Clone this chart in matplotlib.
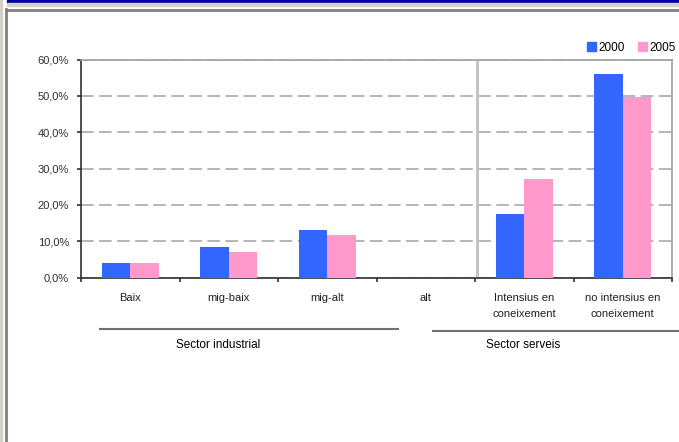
import matplotlib
matplotlib.use("Agg")
import matplotlib.pyplot as plt
from matplotlib.patches import Rectangle, Patch
from matplotlib.lines import Line2D
from matplotlib.ticker import FuncFormatter, MultipleLocator
import numpy as np

plt.rcParams['font.family'] = ['Liberation Sans', 'DejaVu Sans']

# dades llegides del gràfic (%)
categories = ["Baix", "mig-baix", "mig-alt", "alt",
              "Intensius en\nconeixement", "no intensius en\nconeixement"]
v2000 = [4.0, 8.3, 13.2, 0.0, 17.6, 55.9]
v2005 = [4.0, 7.0, 11.7, 0.0, 27.0, 49.7]
series = ["2000", "2005"]
grups = ["Sector industrial", "Sector serveis"]

blau = "#3366FF"
rosa = "#FF99CC"

W, H = 679, 442
fig = plt.figure(figsize=(W / 100, H / 100), dpi=100)

# marc del document
fig.patches.append(Rectangle((7 / W, 1 - 3 / H), 1, 3 / H, transform=fig.transFigure,
                             color="#0000A0", zorder=0))
fig.patches.append(Rectangle((7 / W, 1 - 6 / H), 1, 3 / H, transform=fig.transFigure,
                             color="#D4D0C8", zorder=0))
fig.patches.append(Rectangle((0, 0), 2 / W, 1, transform=fig.transFigure,
                             color="#D4D0C8", zorder=0))
fig.add_artist(Line2D([6 / W, 6 / W], [0, 1 - 9 / H], transform=fig.transFigure,
                      color="#808080", lw=2))
fig.add_artist(Line2D([6 / W, 1], [1 - 10 / H, 1 - 10 / H], transform=fig.transFigure,
                      color="#808080", lw=2))

ax = fig.add_axes([81 / W, (H - 277.5) / H, (672 - 81) / W, (277.5 - 59.5) / H])

x = np.arange(len(categories))
w = 0.29
ax.bar(x - w / 2, v2000, w, color=blau, zorder=3)
ax.bar(x + w / 2, v2005, w, color=rosa, zorder=3)

ax.set_xlim(-0.5, len(categories) - 0.5)
ax.set_ylim(0, 60)
ax.yaxis.set_major_locator(MultipleLocator(10))
ax.yaxis.set_major_formatter(FuncFormatter(lambda v, p: f"{v:.1f}%".replace(".", ",")))
ax.grid(axis="y", color="#B0B0B0", linestyle=(0, (7, 3)), lw=1.3, zorder=1)

for s in ["top", "right"]:
    ax.spines[s].set_color("#A0A0A0")
    ax.spines[s].set_linewidth(1.2)
for s in ["left", "bottom"]:
    ax.spines[s].set_color("#303030")
    ax.spines[s].set_linewidth(1.2)

ax.tick_params(axis="y", labelsize=8, length=3, width=1.2, pad=5.5, colors="#303030")
ax.set_xticks(x)
ax.set_xticklabels(categories, fontsize=8, linespacing=1.7)
ax.tick_params(axis="x", length=0, pad=11.5, colors="#202020")
ax.set_xticks(np.arange(len(categories) + 1) - 0.5, minor=True)
ax.tick_params(axis="x", which="minor", length=3, width=1.2, color="#303030")

# separació entre sectors
ax.axvline(3.52, ymin=0.01, ymax=0.99, color="#C0C0C0", lw=2, zorder=2)

# línies i etiquetes de grup
tr = ax.get_xaxis_transform()
ax.plot([-0.31, 2.72], [-0.235, -0.235], transform=tr, color="#707070", lw=1.5, clip_on=False)
ax.plot([3.07, 5.65], [-0.245, -0.245], transform=tr, color="#707070", lw=1.5, clip_on=False)
ax.text(0.89, -0.31, grups[0], transform=tr, ha="center", va="center", fontsize=8.5)
ax.text(3.99, -0.31, grups[1], transform=tr, ha="center", va="center", fontsize=8.5)

handles = [Patch(color=blau), Patch(color=rosa)]
fig.legend(handles, series, loc="upper right", bbox_to_anchor=(682 / W, 1 - 36 / H),
           ncol=2, frameon=False, fontsize=8.5, handlelength=0.75, handleheight=0.75,
           handletextpad=0.25, columnspacing=1.1, borderpad=0)

fig.savefig("out.png", dpi=100)
